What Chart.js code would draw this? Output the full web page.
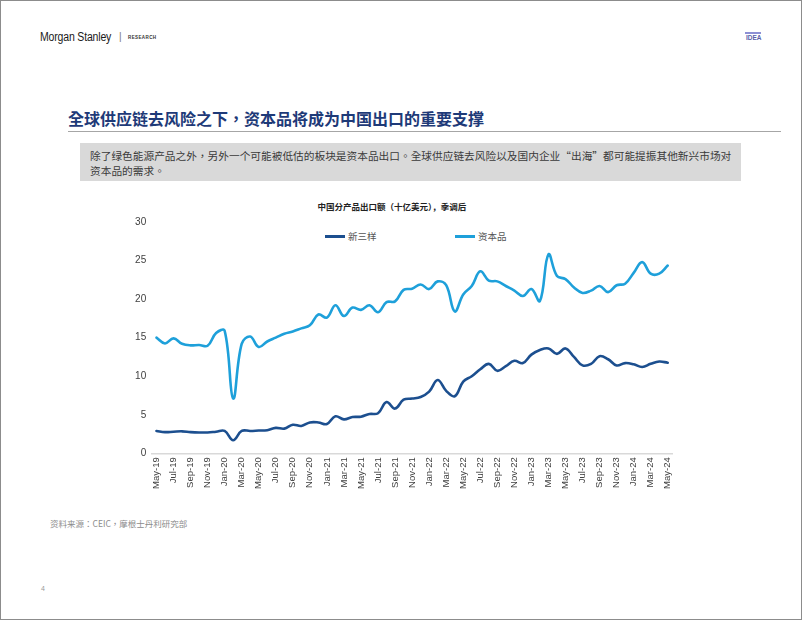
<!DOCTYPE html>
<html>
<head>
<meta charset="utf-8">
<script src="https://cdn.jsdelivr.net/npm/chart.js@4.4.1/dist/chart.umd.min.js"></script>
<style>
  html, body { margin: 0; padding: 0; background: #fff; }
  #page { position: relative; width: 802px; height: 620px; overflow: hidden; font-family: "Liberation Sans", Arial, sans-serif; }
  #frame { position: absolute; left: 0; top: 0; width: 802px; height: 620px; box-sizing: border-box; border: 1px solid #8c8c8c; pointer-events: none; }
  .abs { position: absolute; white-space: nowrap; }
  .tc { font-family: "Noto Sans CJK TC", "Noto Sans CJK SC", sans-serif; }
  .sc { font-family: "Noto Sans CJK SC", sans-serif; }
  #chart { position: absolute; left: 100px; top: 210px; }
  .leg { position: absolute; top: 229px; height: 14px; font-size: 9.5px; color: #555; line-height: 14px; }
  .leg i { display: inline-block; width: 20px; height: 3px; vertical-align: middle; margin-right: 3px; margin-top: -2px; }
</style>
</head>
<body>
<div id="page">
  <div class="abs" style="left:40px;top:30px;font-size:12.5px;color:#1a1a1a;transform:scaleX(0.84);transform-origin:0 0;letter-spacing:-0.2px;">Morgan Stanley</div>
  <div class="abs" style="left:119px;top:31px;font-size:10px;color:#777;">|</div>
  <div class="abs" style="left:128px;top:35px;font-size:4.5px;font-weight:bold;letter-spacing:0.4px;color:#333;">RESEARCH</div>
  <div class="abs" style="left:745px;top:32px;width:16px;height:1.5px;background:#8d90d4;"></div>
  <div class="abs" style="left:746px;top:34px;font-size:6.5px;font-weight:bold;color:#5a5ea8;">IDEA</div>

  <div class="abs tc" lang="zh-TW" style="left:68px;top:106px;font-size:16px;font-weight:bold;color:#1e3a78;">全球供应链去风险之下，资本品将成为中国出口的重要支撑</div>
  <div class="abs" style="left:68px;top:131px;width:713px;height:1px;background:#a6a6a6;"></div>

  <div class="abs" style="left:80px;top:143px;width:661px;height:38px;background:#d9d9d9;"></div>
  <div class="abs tc" lang="zh-TW" style="left:90px;top:148px;font-size:10.7px;line-height:15px;color:#3a3a3a;">除了绿色能源产品之外，另外一个可能被低估的板块是资本品出口。全球供应链去风险以及国内企业“出海”都可能提振其他新兴市场对<br>资本品的需求。</div>

  <div class="abs sc" style="left:242px;top:200px;width:300px;text-align:center;font-size:8.5px;font-weight:bold;color:#222;">中国分产品出口额（十亿美元），季调后</div>
  <div id="legend"></div>

  <canvas id="chart" width="600" height="290"></canvas>

  <div class="abs tc" lang="zh-TW" style="left:50px;top:517px;font-size:8.5px;color:#8c8c8c;">资料来源：CEIC，摩根士丹利研究部</div>
  <div class="abs" style="left:41px;top:585px;font-size:7px;color:#9a9a9a;">4</div>
  <div id="frame"></div>
</div>

<script>
// 月度数据 May-19 .. May-24
const months = [
  "May-19","Jun-19","Jul-19","Aug-19","Sep-19","Oct-19","Nov-19","Dec-19",
  "Jan-20","Feb-20","Mar-20","Apr-20","May-20","Jun-20","Jul-20","Aug-20","Sep-20","Oct-20","Nov-20","Dec-20",
  "Jan-21","Feb-21","Mar-21","Apr-21","May-21","Jun-21","Jul-21","Aug-21","Sep-21","Oct-21","Nov-21","Dec-21",
  "Jan-22","Feb-22","Mar-22","Apr-22","May-22","Jun-22","Jul-22","Aug-22","Sep-22","Oct-22","Nov-22","Dec-22",
  "Jan-23","Feb-23","Mar-23","Apr-23","May-23","Jun-23","Jul-23","Aug-23","Sep-23","Oct-23","Nov-23","Dec-23",
  "Jan-24","Feb-24","Mar-24","Apr-24","May-24"
]

const newThree = [
  2.9, 2.75, 2.8, 2.85, 2.75, 2.7, 2.7, 2.8,
  2.9, 1.7, 2.9, 2.9, 2.95, 3.0, 3.3, 3.2, 3.7, 3.55, 4.0, 4.0,
  3.8, 4.8, 4.4, 4.7, 4.75, 5.1, 5.2, 6.65, 5.8, 6.95, 7.1, 7.3,
  8.0, 9.5, 8.1, 7.4, 9.3, 10.0, 10.9, 11.6, 10.7, 11.3, 12.0, 11.7,
  12.8, 13.4, 13.6, 12.9, 13.6, 12.5, 11.4, 11.6, 12.6, 12.2, 11.4, 11.7,
  11.55, 11.2, 11.6, 11.9, 11.75
]

const capitalGoods = [
  15.0, 14.25, 14.9, 14.2, 14.0, 14.05, 13.95, 15.6,
  15.9, 7.1, 14.2, 15.15, 13.8, 14.5, 15.0, 15.5, 15.8, 16.2, 16.6, 18.0,
  17.6, 19.2, 17.8, 18.9, 18.6, 19.2, 18.3, 19.6, 19.7, 21.2, 21.35, 21.9,
  21.3, 22.3, 21.8, 18.4, 20.6, 21.7, 23.6, 22.4, 22.3, 21.7, 21.1, 20.4,
  21.3, 19.75, 25.8, 23.0, 22.6, 21.5, 20.8, 21.1, 21.7, 20.9, 21.8, 22.0,
  23.4, 24.8, 23.3, 23.3, 24.35
]

const seriesNames = ["新三样", "资本品"]
const yTicks = [0, 5, 10, 15, 20, 25, 30]
// 每两个月标一次
const xTickIdx = months.map((m, i) => i).filter(i => i % 2 === 0)

const toPoints = arr => arr.map((v, i) => ({ x: i, y: v }))

const chart = new Chart(document.getElementById("chart"), {
  type: "line",
  data: {
    datasets: [
      { label: seriesNames[0], data: toPoints(newThree), borderColor: "#1c4f8f", backgroundColor: "#1c4f8f" },
      { label: seriesNames[1], data: toPoints(capitalGoods), borderColor: "#1ea0da", backgroundColor: "#1ea0da" }
    ]
  },
  options: {
    responsive: false,
    animation: false,
    layout: { padding: { left: 0, right: 28, top: 10, bottom: 0 } },
    elements: {
      line: { borderWidth: 2.6, tension: 0.4, borderCapStyle: "round", borderJoinStyle: "round" },
      point: { radius: 0 }
    },
    plugins: { legend: { display: false }, title: { display: false }, tooltip: { enabled: false } },
    scales: {
      x: {
        type: "linear",
        min: -0.5,
        max: months.length - 0.5,
        afterBuildTicks: s => { s.ticks = xTickIdx.map(i => ({ value: i })) },
        afterFit: s => { s.height = 46.7 },
        grid: { display: false, drawTicks: false },
        border: { display: true, color: "#d9d9d9", width: 1.5 },
        ticks: {
          autoSkip: false, maxRotation: 90, minRotation: 90, padding: 4,
          color: "#404040", font: { family: "Liberation Sans", size: 9.5 },
          callback: v => months[v]
        }
      },
      y: {
        min: 0, max: 30,
        afterBuildTicks: s => { s.ticks = yTicks.map(v => ({ value: v })) },
        afterFit: s => { s.width = 52.2 },
        grid: { display: false, drawTicks: false },
        border: { display: false },
        ticks: { padding: 6, color: "#404040", font: { family: "Liberation Sans", size: 10 } }
      }
    }
  }
})

// 图例 (放在绘图区内)
const legendLeft = [325, 455]
const legendBox = document.getElementById("legend")
chart.data.datasets.forEach((ds, i) => {
  const el = document.createElement("div")
  el.className = "leg sc"
  el.style.left = legendLeft[i] + "px"
  el.innerHTML = '<i style="background:' + ds.borderColor + '"></i>' + ds.label
  legendBox.appendChild(el)
})
</script>
</body>
</html>
